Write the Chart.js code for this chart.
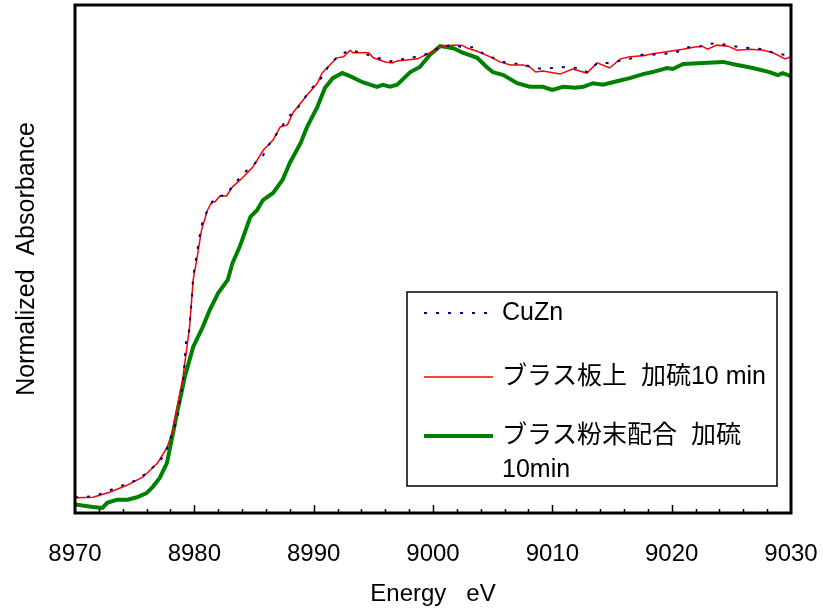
<!DOCTYPE html>
<html>
<head>
<meta charset="utf-8">
<script src="https://cdn.jsdelivr.net/npm/chart.js@4/dist/chart.umd.min.js"></script>
<style>
  html, body { margin: 0; padding: 0; background: #fff; }
  #wrap { width: 823px; height: 609px; }
</style>
</head>
<body>
<div id="wrap"><canvas id="xanes" width="823" height="609"></canvas></div>
<script>
// x axis
const xMin = 8970, xMax = 9030;
const xTickStep = 10, xMinorStep = 2;

// labels
const seriesNames = ['CuZn', 'ブラス板上  加硫10 min', ['ブラス粉末配合  加硫', '10min']];

// CuZn reference
const cuznE = [8970.0, 8970.6, 8971.5, 8972.35, 8973.35, 8975.2, 8976.1, 8976.9, 8977.5, 8978.55,
  8979.1, 8979.3, 8979.55, 8979.8, 8979.9, 8980.2, 8980.5, 8980.7, 8981.1, 8981.6,
  8982.15, 8982.7, 8983.2, 8984.25, 8985.1, 8985.7, 8986.1, 8986.6, 8987.3, 8987.9,
  8988.6, 8989.3, 8989.95, 8990.7, 8991.2, 8992.05, 8993.05, 8994.05, 8995.0, 8996.0,
  8996.8, 8997.8, 8998.75, 8999.75, 9000.76, 9001.6, 9002.5, 9003.3, 9004.1, 9005.8,
  9006.6, 9008.1, 9009.1, 9010.05, 9011.05, 9012.1, 9012.9, 9013.8, 9014.8, 9016.5,
  9017.5, 9018.4, 9020.3, 9021.3, 9022.2, 9023.0, 9023.8, 9024.7, 9025.7, 9026.7,
  9027.7, 9028.5, 9029.5, 9030.0];
const cuznAbs = [0.031, 0.031, 0.033, 0.039, 0.049, 0.065, 0.081, 0.098, 0.114, 0.183,
  0.268, 0.335, 0.356, 0.423, 0.465, 0.508, 0.553, 0.575, 0.596, 0.616,
  0.624, 0.626, 0.644, 0.671, 0.689, 0.701, 0.720, 0.736, 0.760, 0.780,
  0.795, 0.819, 0.839, 0.858, 0.878, 0.900, 0.911, 0.906, 0.898, 0.892,
  0.888, 0.896, 0.898, 0.906, 0.919, 0.921, 0.917, 0.917, 0.906, 0.888,
  0.886, 0.880, 0.874, 0.876, 0.878, 0.876, 0.868, 0.886, 0.886, 0.894,
  0.902, 0.902, 0.906, 0.917, 0.917, 0.923, 0.925, 0.921, 0.917, 0.915,
  0.913, 0.906, 0.902, 0.900];

// brass plate, sulfurized 10 min
const plateE = [8970.0, 8970.17, 8971.5, 8972.9, 8974.4, 8975.7, 8976.9, 8977.7, 8978.2, 8979.05,
  8979.6, 8979.9, 8980.2, 8980.6, 8981.1, 8981.5, 8981.7, 8982.15, 8982.7, 8983.2,
  8984.0, 8984.9, 8985.8, 8986.6, 8987.2, 8987.8, 8988.3, 8989.45, 8990.3, 8990.7,
  8991.1, 8991.96, 8992.5, 8993.05, 8993.3, 8993.9, 8994.6, 8995.0, 8996.0, 8996.6,
  8997.0, 8998.7, 8999.75, 9000.76, 9001.6, 9002.4, 9002.9, 9003.7, 9004.8, 9005.6,
  9006.5, 9007.55, 9008.1, 9008.6, 9009.2, 9010.65, 9011.7, 9012.9, 9013.75, 9014.8,
  9015.7, 9016.5, 9017.6, 9018.4, 9019.3, 9020.96, 9021.8, 9022.55, 9023.0, 9023.8,
  9024.7, 9025.5, 9026.6, 9027.7, 9028.5, 9029.5, 9030.0];
const plateAbs = [0.030, 0.030, 0.031, 0.041, 0.055, 0.071, 0.098, 0.128, 0.163, 0.268,
  0.366, 0.459, 0.498, 0.557, 0.596, 0.614, 0.612, 0.624, 0.624, 0.642,
  0.659, 0.681, 0.715, 0.734, 0.760, 0.764, 0.789, 0.823, 0.846, 0.866,
  0.876, 0.896, 0.898, 0.911, 0.906, 0.906, 0.906, 0.896, 0.888, 0.886,
  0.890, 0.894, 0.906, 0.919, 0.921, 0.921, 0.915, 0.909, 0.898, 0.888,
  0.882, 0.882, 0.878, 0.868, 0.870, 0.864, 0.874, 0.866, 0.886, 0.876,
  0.894, 0.898, 0.900, 0.904, 0.907, 0.913, 0.917, 0.919, 0.913, 0.921,
  0.919, 0.911, 0.913, 0.911, 0.906, 0.894, 0.898];

// brass powder compound, sulfurized 10 min
const powderE = [8970.0, 8970.17, 8971.5, 8972.3, 8972.7, 8973.5, 8974.4, 8975.2, 8976.0, 8976.5,
  8977.1, 8977.7, 8978.1, 8978.55, 8978.97, 8979.2, 8979.9, 8980.7, 8981.3, 8982.0,
  8982.8, 8983.2, 8983.8, 8984.7, 8985.25, 8985.75, 8986.6, 8987.4, 8988.0, 8988.9,
  8989.45, 8990.3, 8990.95, 8991.6, 8992.4, 8993.05, 8994.1, 8995.3, 8995.8, 8996.4,
  8997.0, 8998.1, 8998.9, 8999.75, 9000.6, 9001.7, 9002.5, 9003.7, 9004.5, 9005.0,
  9005.9, 9007.05, 9008.1, 9009.2, 9010.0, 9010.9, 9011.9, 9012.6, 9013.4, 9014.25,
  9015.4, 9016.5, 9017.6, 9018.4, 9019.6, 9020.1, 9020.96, 9022.6, 9024.3, 9025.5,
  9026.8, 9028.2, 9028.9, 9029.3, 9030.0];
const powderAbs = [0.016, 0.016, 0.012, 0.010, 0.020, 0.026, 0.026, 0.031, 0.039, 0.051,
  0.069, 0.098, 0.144, 0.197, 0.242, 0.268, 0.327, 0.366, 0.400, 0.433,
  0.459, 0.492, 0.524, 0.583, 0.596, 0.616, 0.630, 0.656, 0.689, 0.728,
  0.760, 0.799, 0.837, 0.856, 0.866, 0.860, 0.848, 0.839, 0.843, 0.839,
  0.843, 0.868, 0.878, 0.902, 0.919, 0.915, 0.906, 0.896, 0.878, 0.868,
  0.862, 0.846, 0.839, 0.839, 0.833, 0.839, 0.837, 0.839, 0.846, 0.843,
  0.850, 0.856, 0.864, 0.868, 0.876, 0.874, 0.884, 0.886, 0.888, 0.882,
  0.876, 0.868, 0.862, 0.866, 0.860];

const toPoints = (xs, ys) => xs.map((x, i) => ({ x, y: ys[i] }));

const FONT = '"Liberation Sans", Arial, "Noto Sans CJK JP", sans-serif';

// frame, inward ticks and boxed legend
const framePlugin = {
  id: 'frame',
  afterDraw(chart) {
    const { ctx, chartArea: a, scales } = chart;
    const xs = scales.x;
    ctx.save();
    ctx.strokeStyle = '#000';
    // ticks
    ctx.lineWidth = 1.5;
    for (let v = xMin + xMinorStep; v < xMax; v += xMinorStep) {
      const px = Math.round(xs.getPixelForValue(v)) + 0.5;
      const len = (v - xMin) % xTickStep === 0 ? 8 : 4;
      ctx.beginPath();
      ctx.moveTo(px, a.bottom);
      ctx.lineTo(px, a.bottom - len);
      ctx.stroke();
    }
    // frame
    ctx.lineWidth = 3;
    ctx.strokeRect(a.left, a.top, a.right - a.left, a.bottom - a.top);

    // legend box
    const bx = 407, by = 292, bw = 370, bh = 194;
    ctx.lineWidth = 1.5;
    ctx.fillStyle = '#fff';
    ctx.fillRect(bx, by, bw, bh);
    ctx.strokeRect(bx, by, bw, bh);
    const rows = [313, 377, 436];
    ctx.font = '25px ' + FONT;
    ctx.textBaseline = 'middle';
    chart.data.datasets.forEach((ds, i) => {
      const y = rows[i];
      ctx.save();
      ctx.strokeStyle = ds.borderColor;
      ctx.lineWidth = ds.borderWidth;
      ctx.setLineDash(ds.borderDash || []);
      ctx.beginPath();
      ctx.moveTo(424, y);
      ctx.lineTo(493, y);
      ctx.stroke();
      ctx.restore();
      ctx.fillStyle = '#000';
      const lines = Array.isArray(seriesNames[i]) ? seriesNames[i] : [seriesNames[i]];
      lines.forEach((t, k) => ctx.fillText(t, 502, y + k * 34));
    });
    ctx.restore();
  }
};

new Chart(document.getElementById('xanes'), {
  type: 'line',
  data: {
    datasets: [
      {
        label: 'CuZn',
        data: toPoints(cuznE, cuznAbs),
        borderColor: '#000080',
        borderWidth: 2,
        borderDash: [3, 9],
        pointRadius: 0,
        tension: 0,
        order: 1
      },
      {
        label: 'ブラス板上 加硫10 min',
        data: toPoints(plateE, plateAbs),
        borderColor: '#ff0000',
        borderWidth: 1.5,
        pointRadius: 0,
        tension: 0,
        order: 2
      },
      {
        label: 'ブラス粉末配合 加硫 10min',
        data: toPoints(powderE, powderAbs),
        borderColor: '#008000',
        borderWidth: 4,
        pointRadius: 0,
        tension: 0,
        order: 3
      }
    ]
  },
  options: {
    responsive: false,
    animation: false,
    layout: { padding: { top: 5, right: 32, left: 0, bottom: 0 } },
    plugins: { legend: { display: false }, tooltip: { enabled: false } },
    scales: {
      x: {
        type: 'linear',
        min: xMin,
        max: xMax,
        grid: { display: false, drawTicks: false },
        border: { display: false },
        ticks: {
          stepSize: xTickStep,
          padding: 27,
          color: '#000',
          font: { family: FONT, size: 24 },
          callback: (v) => String(v)
        },
        title: { display: true, text: 'Energy   eV', color: '#000', padding: 0, font: { family: FONT, size: 24 } },
        afterFit(s) {
          s.height = 96;
          s.paddingLeft = 0;
          s.paddingRight = 0;
        }
      },
      y: {
        min: 0,
        max: 1,
        grid: { display: false, drawTicks: false },
        border: { display: false },
        ticks: { display: false },
        title: { display: true, text: 'Normalized  Absorbance', color: '#000', padding: { top: 12, bottom: 0 }, font: { family: FONT, size: 25 } },
        afterFit(s) { s.width = 75; }
      }
    }
  },
  plugins: [framePlugin]
});
</script>
</body>
</html>
